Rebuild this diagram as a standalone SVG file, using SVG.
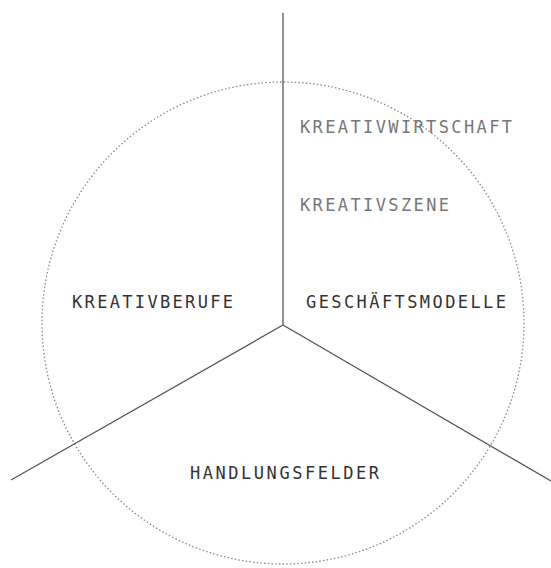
<svg xmlns="http://www.w3.org/2000/svg" width="551" height="568" viewBox="0 0 551 568">
<style>
.t{font-family:"DejaVu Sans Mono","Liberation Mono",monospace;font-size:17px;fill:#333}
.g{fill:#777}
.ln{stroke:#555;stroke-width:1.3;fill:none}
.circ{stroke:#888;stroke-width:1.3;fill:none;stroke-dasharray:1.5 2.2}
</style>
<rect width="551" height="568" fill="#fff"/>
<g id="circle"><circle class="circ" cx="283" cy="323" r="241"/></g>
<g id="connectors">
<line class="ln" x1="283" y1="13" x2="283" y2="325"/>
<line class="ln" x1="283" y1="325" x2="11" y2="480"/>
<line class="ln" x1="283" y1="325" x2="551" y2="481"/>
</g>
<g id="kreativwirtschaft"><text class="t g" x="300" y="133" textLength="212" lengthAdjust="spacing">KREATIVWIRTSCHAFT</text></g>
<g id="kreativszene"><text class="t g" x="300" y="211" textLength="149" lengthAdjust="spacing">KREATIVSZENE</text></g>
<g id="kreativberufe"><text class="t" x="72" y="308" textLength="161" lengthAdjust="spacing">KREATIVBERUFE</text></g>
<g id="geschaeftsmodelle"><text class="t" x="306" y="308" textLength="200" lengthAdjust="spacing">GESCHÄFTSMODELLE</text></g>
<g id="handlungsfelder"><text class="t" x="190" y="479" textLength="189" lengthAdjust="spacing">HANDLUNGSFELDER</text></g>
</svg>
